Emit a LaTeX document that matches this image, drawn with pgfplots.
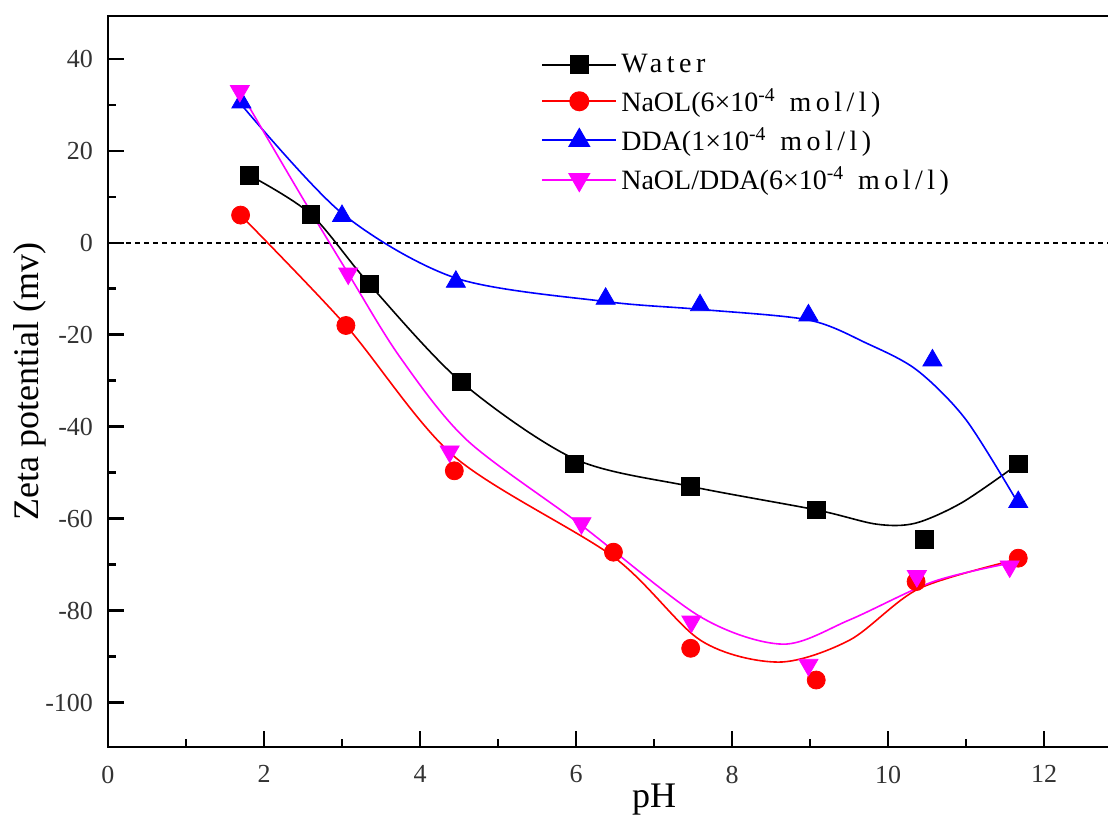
\documentclass[border=0pt]{standalone}
\usepackage{fontspec}
\setmainfont{Liberation Serif}
\usepackage{pgfplots}
\pgfplotsset{compat=1.18}

\definecolor{magn}{HTML}{FF00FF}
\newcommand{\wide}[1]{{\addfontfeature{LetterSpace=16}#1}}

\begin{document}
\begin{tikzpicture}
% page = the visible part of the reference (right side of the frame is cut off)
\path[use as bounding box] (-54pt,-33.65pt) rectangle (500pt,373.35pt);
\begin{axis}[
  scale only axis,
  width=546pt, height=365.35pt,
  xmin=0, xmax=14, ymin=-109.6, ymax=49.3,
  xtick={0,2,...,12}, ytick={-100,-80,...,40},
  minor x tick num=1, minor y tick num=1,
  xtick pos=bottom, ytick pos=left,
  tick align=inside,
  major tick length=8pt, minor tick length=4pt,
  every tick/.style={black, line width=1.2pt},
  axis line style={line width=1.2pt},
  /pgf/number format/assume math mode=true,
  ticklabel style={font=\fontsize{13}{15}\selectfont, text=black!80},
  xticklabel style={yshift=-6pt},
  yticklabel style={xshift=-4pt},
  xlabel={pH}, ylabel={Zeta potential (mv)},
  label style={font=\fontsize{18}{20}\selectfont},
  xlabel style={at={(axis description cs:0.5,-0.072)}, anchor=center},
  ylabel style={at={(axis description cs:-0.0714,0.5)}, anchor=center, rotate=0},
  legend cell align=left,
  legend style={draw=none, fill=none, font=\fontsize{14}{16}\selectfont,
    at={(axis cs:5.55,42.0)}, anchor=north west, row sep=2.4pt,
    inner sep=0pt, nodes={inner sep=2pt}},
  legend image code/.code={\draw[mark repeat=2, mark phase=2]
    plot coordinates {(0pt,0pt) (18.5pt,0pt) (37pt,0pt)};},
]
% zero line
\addplot[forget plot, black, line width=1pt, dash pattern=on 2.5pt off 2pt]
  coordinates {(0,0) (14,0)};

% traced curves
\addplot[forget plot, black, line width=0.8pt, smooth] coordinates {
  (1.81,14.7)(2.60,6.2)(3.35,-9.0)(4.53,-30.3)(5.98,-47.0)(7.47,-53.0)
  (9.08,-58.1)(9.85,-61.2)(10.35,-61.0)(10.95,-56.5)(11.67,-48.1)};
\addplot[forget plot, red, line width=0.8pt, smooth] coordinates {
  (1.70,6.0)(3.05,-18.0)(4.44,-46.5)(6.48,-68.3)(7.60,-86.5)(8.60,-91.2)
  (9.51,-86.4)(10.40,-75.2)(11.67,-68.8)};
\addplot[forget plot, blue, line width=0.8pt, smooth] coordinates {
  (1.71,30.0)(3.00,6.4)(4.46,-7.7)(6.38,-12.8)(7.59,-14.5)(8.98,-16.8)
  (9.73,-21.9)(10.37,-27.7)(11.00,-38.5)(11.67,-56.7)};
\addplot[forget plot, magn, line width=0.8pt, smooth] coordinates {
  (1.69,33.0)(2.46,10.7)(3.08,-6.7)(3.74,-24.8)(4.60,-42.9)(6.05,-61.2)
  (7.59,-81.3)(8.65,-87.3)(9.51,-82.0)(10.58,-73.7)(11.56,-69.7)};

% measured points
\addplot[forget plot, only marks, mark=square*, mark size=4.4pt, black] coordinates {
  (1.81,14.7)(2.60,6.2)(3.35,-9.0)(4.53,-30.3)(5.98,-48.1)(7.47,-53.0)
  (9.08,-58.1)(10.47,-64.5)(11.67,-48.1)};
\addplot[forget plot, only marks, mark=*, mark size=4.5pt, red] coordinates {
  (1.70,6.0)(3.05,-18.0)(4.44,-49.6)(6.48,-67.3)(7.47,-88.2)(9.08,-95.1)
  (10.36,-73.7)(11.67,-68.6)};
\addplot[forget plot, only marks, mark=triangle*, mark size=5.5pt, blue] coordinates {
  (1.71,30.5)(3.00,5.8)(4.46,-8.5)(6.38,-12.2)(7.59,-13.6)(8.98,-15.8)
  (10.57,-25.6)(11.67,-56.4)};
\addplot[forget plot, only marks, mark=triangle*, mark size=5.5pt,
  mark options={rotate=180}, magn] coordinates {
  (1.69,33.0)(3.08,-6.7)(4.38,-45.4)(6.07,-61.0)(7.48,-82.4)(8.98,-91.8)
  (10.37,-72.5)(11.56,-70.4)};

\addlegendimage{black, line width=1pt, mark=square*, mark size=4.4pt}
\addlegendentry{\wide{Water}}
\addlegendimage{red, line width=1pt, mark=*, mark size=4.5pt}
\addlegendentry{NaOL(6×10\textsuperscript{-4}\hspace{7pt}\wide{mol/l)}}
\addlegendimage{blue, line width=1pt, mark=triangle*, mark size=5.5pt}
\addlegendentry{DDA(1×10\textsuperscript{-4}\hspace{7pt}\wide{mol/l)}}
\addlegendimage{magn, line width=1pt, mark=triangle*, mark size=5.5pt, mark options={rotate=180}}
\addlegendentry{NaOL/DDA(6×10\textsuperscript{-4}\hspace{7pt}\wide{mol/l)}}
\end{axis}
\end{tikzpicture}
\end{document}
